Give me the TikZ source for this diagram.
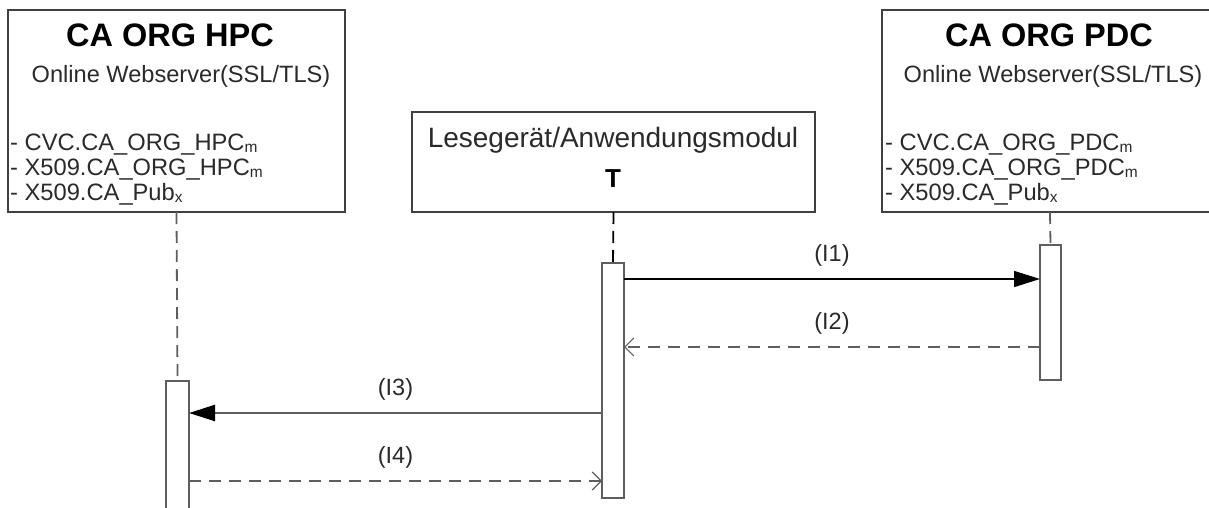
\documentclass[tikz,border=0pt]{standalone}
\usepackage{fontspec}
\setmainfont{Liberation Sans}
\usetikzlibrary{arrows.meta}
\definecolor{boxline}{HTML}{404040}
\definecolor{txt}{HTML}{2A2A2A}
\definecolor{gline}{HTML}{5E5E5E}
\begin{document}
\begin{tikzpicture}[x=1pt,y=-1pt,
  obj/.style={draw=boxline,line width=2pt,fill=white,anchor=north west,inner sep=0,outer sep=0},
  actbar/.style={draw=gline,line width=2pt,fill=white,anchor=north west,inner sep=0,outer sep=0},
  life/.style={draw=gline,line width=1.8pt,dash pattern=on 12pt off 7pt},
  ttl/.style={font=\bfseries\fontsize{32.5}{32.5}\selectfont,text=black,anchor=base,inner sep=0},
  subt/.style={font=\fontsize{23.6}{23.6}\selectfont,text=txt,anchor=base,inner sep=0},
  item/.style={font=\fontsize{23.7}{23.7}\selectfont,text=txt,anchor=base west,inner sep=0},
  rdrtxt/.style={font=\fontsize{28}{28}\selectfont,text=txt,anchor=base,inner sep=0},
  lbl/.style={font=\fontsize{23.5}{23.5}\selectfont,text=txt,anchor=base,inner sep=0},
  call/.style={line width=1.5pt,-{Triangle[length=26pt,width=16pt,black]}},
  ret/.style={draw=gline,line width=2.2pt,dash pattern=on 12pt off 8pt,-{Straight Barb[length=9pt,width=18pt,line width=1.2pt]}}
]
\newcommand{\sbm}[1]{\raisebox{-2pt}{\fontsize{15.5}{15.5}\selectfont #1}}
\useasboundingbox (0,0) rectangle (1209,508);
% objects
\node[obj,minimum width=337pt,minimum height=202pt] (hpc) at (8,10) {};
\node[obj,minimum width=336pt,minimum height=202pt] (pdc) at (882,10) {};
\node[obj,minimum width=403pt,minimum height=100pt] (rdr) at (412,112) {};
% HPC texts
\node[ttl] (hpct) at (170,47) {CA ORG HPC};
\node[subt] (hpcs) at (181,83) {Online Webserver(SSL/TLS)};
\node[item] (hpc1) at (10,150) {- CVC.CA\_ORG\_HPC\sbm{m}};
\node[item] (hpc2) at (10,175) {- X509.CA\_ORG\_HPC\sbm{m}};
\node[item] (hpc3) at (10,200) {- X509.CA\_Pub\sbm{x}};
% PDC texts
\node[ttl] (pdct) at (1049,47) {CA ORG PDC};
\node[subt] (pdcs) at (1053,83) {Online Webserver(SSL/TLS)};
\node[item] (pdc1) at (885,150) {- CVC.CA\_ORG\_PDC\sbm{m}};
\node[item] (pdc2) at (885,175) {- X509.CA\_ORG\_PDC\sbm{m}};
\node[item] (pdc3) at (885,200) {- X509.CA\_Pub\sbm{x}};
% reader texts
\node[rdrtxt] (rdr1) at (613,147) {Lesegerät/Anwendungsmodul};
\node[rdrtxt,font=\bfseries\fontsize{26}{26}\selectfont,text=black] (rdr2) at (613,187) {T};
% activation bars
\node[actbar,minimum width=23pt,minimum height=140pt] (actL) at (166,381) {};
\node[actbar,minimum width=22pt,minimum height=235pt] (actM) at (602,263) {};
\node[actbar,minimum width=21pt,minimum height=135pt] (actR) at (1040,245) {};
% lifelines
\draw[life] (hpc.south) -- (actL.north);
\draw[life,draw=black] (rdr.south) -- (actM.north);
\draw[life] (pdc.south) -- (actR.north);
% message levels
\coordinate (y1) at (0,279);
\coordinate (y2) at (0,347);
\coordinate (y3) at (0,413);
\coordinate (y4) at (0,481);
% messages
\draw[call] (actM.east |- y1) -- node[lbl,yshift=18pt] (l1) {(I1)} (actR.west |- y1);
\draw[ret] (actR.west |- y2) -- node[lbl,yshift=18pt] (l2) {(I2)} (actM.east |- y2);
\draw[call,draw=gline,line width=2.4pt] (actM.west |- y3) -- node[lbl,yshift=18pt] (l3) {(I3)} (actL.east |- y3);
\draw[ret] (actL.east |- y4) -- node[lbl,yshift=18pt] (l4) {(I4)} (actM.west |- y4);
\end{tikzpicture}
\end{document}
